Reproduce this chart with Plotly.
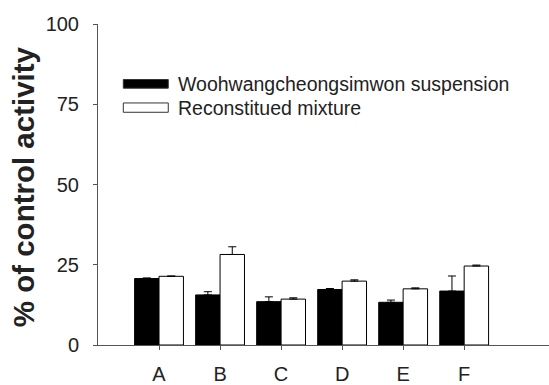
import plotly.graph_objects as go

# Group labels and the two compared preparations
categories = ["A", "B", "C", "D", "E", "F"]
series_names = ["Woohwangcheongsimwon suspension", "Reconstitued mixture"]

# Mean % of control activity and upper error (SEM)
suspension_values = [20.7, 15.6, 13.5, 17.3, 13.3, 16.8]
suspension_errors = [0.2, 1.0, 1.5, 0.3, 0.7, 4.7]
mixture_values = [21.4, 28.2, 14.3, 19.9, 17.5, 24.6]
mixture_errors = [0.1, 2.4, 0.4, 0.4, 0.3, 0.3]

y_ticks = [0, 25, 50, 75, 100]
y_title = "% of control activity"

FONT = "Liberation Sans, Arial, sans-serif"
TEXT_COLOR = "#222222"
AXIS_COLOR = "#555555"


def upper_error(values):
    return dict(type="data", array=values, symmetric=False,
                arrayminus=[0] * len(values),
                color="black", thickness=1, width=4)


fig = go.Figure()
fig.add_trace(go.Bar(
    x=categories, y=suspension_values, name=series_names[0],
    marker=dict(color="black", line=dict(color="black", width=1)),
    error_y=upper_error(suspension_errors), width=0.4,
))
fig.add_trace(go.Bar(
    x=categories, y=mixture_values, name=series_names[1],
    marker=dict(color="white", line=dict(color="black", width=1)),
    error_y=upper_error(mixture_errors), width=0.4,
))

# Legend drawn as wide swatches with labels beside them
legend_rows = [
    (series_names[0], "black", 0.800, 0.827, 0.812),
    (series_names[1], "white", 0.725, 0.754, 0.738),
]
for label, fill, y0, y1, yt in legend_rows:
    fig.add_shape(type="rect", xref="paper", yref="paper",
                  x0=0.0561, x1=0.1558, y0=y0, y1=y1,
                  fillcolor=fill, line=dict(color="#333333", width=1))
    fig.add_annotation(xref="paper", yref="paper", x=0.172, y=yt,
                       text=label, showarrow=False, xanchor="left",
                       yanchor="middle",
                       font=dict(family=FONT, size=19.5, color=TEXT_COLOR))

# Bold vertical axis title
fig.add_annotation(xref="paper", yref="paper", x=-0.166, y=0.4918,
                   text="<b>" + y_title + "</b>", showarrow=False,
                   textangle=-90, xanchor="center", yanchor="middle",
                   font=dict(family=FONT, size=29.5, color=TEXT_COLOR))

fig.update_layout(
    width=549, height=385,
    margin=dict(l=98, r=0, t=24, b=37),
    paper_bgcolor="white", plot_bgcolor="white",
    barmode="group", bargap=0.2, bargroupgap=0,
    showlegend=False,
    font=dict(family=FONT, color=TEXT_COLOR),
    xaxis=dict(
        range=[-1.0, 6.39], showgrid=False, zeroline=False,
        showline=True, linecolor=AXIS_COLOR, linewidth=1,
        ticks="outside", ticklen=4, tickcolor=AXIS_COLOR,
        ticklabelstandoff=7,
        tickfont=dict(family=FONT, size=20, color=TEXT_COLOR),
    ),
    yaxis=dict(
        range=[0, 100], tickvals=y_ticks, showgrid=False, zeroline=False,
        showline=True, linecolor=AXIS_COLOR, linewidth=1,
        ticks="outside", ticklen=4, tickcolor=AXIS_COLOR,
        ticklabelstandoff=10,
        tickfont=dict(family=FONT, size=20, color=TEXT_COLOR),
    ),
)

fig.write_html("out.html")
